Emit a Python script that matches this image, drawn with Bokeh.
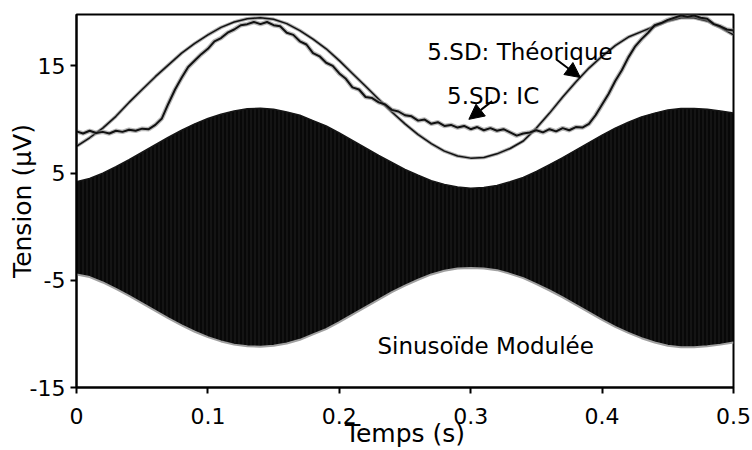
import numpy as np
from bokeh.plotting import figure
from bokeh.models import Range1d, FixedTicker, Arrow, NormalHead, Label
from bokeh.core.properties import value
from bokeh.embed import file_html
from bokeh.resources import INLINE

# ---- data ----
t_coarse = [round(0.01 * i, 2) for i in range(51)]

# 5.SD: Théorique (µV)
theory = [7.5, 8.3, 9.2, 10.3, 11.6, 12.8, 14.0, 15.1, 16.2, 17.1,
          17.9, 18.6, 19.1, 19.4, 19.5, 19.35, 18.95, 18.3, 17.5, 16.6,
          15.5, 14.3, 13.1, 11.9, 10.7, 9.6, 8.6, 7.75, 7.05, 6.6,
          6.4, 6.45, 6.8, 7.3, 8.0, 9.2, 10.6, 12.1, 13.5, 14.8,
          15.9, 16.9, 17.7, 18.2, 18.7, 19.2, 19.5, 19.5, 19.2, 18.6,
          17.9]

# envelope of the modulated sinusoid (µV)
env_upper = [4.2, 4.5, 5.0, 5.6, 6.25, 6.95, 7.65, 8.35, 9.0, 9.6,
             10.1, 10.5, 10.8, 11.0, 11.05, 10.95, 10.7, 10.4, 9.9, 9.4,
             8.75, 8.05, 7.35, 6.65, 6.0, 5.35, 4.8, 4.3, 3.95, 3.7,
             3.6, 3.65, 3.85, 4.2, 4.6, 5.15, 5.8, 6.45, 7.15, 7.85,
             8.55, 9.2, 9.75, 10.25, 10.6, 10.9, 11.02, 11.03, 10.95, 10.8,
             10.62]
env_lower = [-4.45, -4.7, -5.2, -5.8, -6.45, -7.15, -7.85, -8.55, -9.2, -9.8,
             -10.3, -10.7, -11.0, -11.15, -11.2, -11.1, -10.9, -10.55, -10.05, -9.55,
             -8.9, -8.2, -7.5, -6.8, -6.1, -5.5, -4.95, -4.45, -4.1, -3.9,
             -3.85, -3.9, -4.05, -4.4, -4.8, -5.35, -5.95, -6.6, -7.3, -8.0,
             -8.7, -9.35, -9.9, -10.4, -10.8, -11.1, -11.25, -11.25, -11.15, -11.0,
             -10.8]

t_fine = [round(0.005 * i, 3) for i in range(101)]

# 5.SD: IC (µV)
ic = [8.9, 8.7, 8.95, 8.75, 8.85, 8.7, 8.95, 8.85, 9.05, 8.95,
      9.15, 9.1, 9.5, 10.1, 11.5, 12.8, 13.9, 14.9, 15.5, 16.1,
      16.6, 17.3, 17.6, 18.1, 18.4, 18.8, 18.9, 19.1, 18.9, 19.1,
      18.8, 18.7, 18.1, 17.9, 17.3, 17.0, 16.2, 15.9, 15.3, 15.0,
      14.3, 13.8, 13.0, 12.8, 12.1, 12.0, 11.6, 11.4, 10.9, 10.75,
      10.4, 10.3, 9.9, 10.0, 9.6, 9.75, 9.4, 9.5, 9.25, 9.4,
      9.1, 9.3, 9.0, 9.2, 8.95, 9.1, 8.8, 8.5, 8.7, 8.8,
      9.0, 8.8, 9.1, 8.9, 9.2, 9.0, 9.3, 9.25, 9.6, 10.4,
      11.4, 12.4, 13.6, 14.6, 15.8, 16.8, 17.5, 18.1, 18.8, 19.0,
      19.3, 19.5, 19.7, 19.6, 19.7, 19.5, 19.4, 18.9, 18.7, 18.4,
      18.3]

x_ticks = [0, 0.1, 0.2, 0.3, 0.4, 0.5]
x_tick_labels = ["0", "0.1", "0.2", "0.3", "0.4", "0.5"]
y_ticks = [-15, -5, 5, 15]
y_tick_labels = ["-15", "-5", "5", "15"]

FONT = "DejaVu Sans"

p = figure(width=752, height=450, output_backend="svg", toolbar_location=None,
           x_range=Range1d(0, 0.5), y_range=Range1d(-15, 19.8),
           min_border_left=76, min_border_right=19, min_border_top=14,
           min_border_bottom=62)
p.background_fill_color = "white"
p.border_fill_color = "white"
p.outline_line_color = "black"
p.outline_line_width = 2
p.xgrid.visible = False
p.ygrid.visible = False

# modulated sinusoid (dense carrier rendered as filled envelope)
p.varea(x=t_coarse, y1=env_lower, y2=env_upper, fill_color="#080808",
        hatch_pattern="vertical_line", hatch_color="#1f1f1f", hatch_scale=4,
        hatch_weight=1)
p.line(t_coarse, env_lower, line_color="#a0a0a0", line_width=2)
p.line(t_coarse, env_upper, line_color="#151515", line_width=1.5)

# theoretical curve
p.line(t_coarse, theory, line_color="#8a8a8a", line_width=3.5, line_alpha=0.7)
p.line(t_coarse, theory, line_color="#111111", line_width=1.5)

# IC curve
p.line(t_fine, ic, line_color="#8a8a8a", line_width=4.5, line_alpha=0.6)
p.line(t_fine, ic, line_color="#111111", line_width=2)

# annotations
p.add_layout(Label(x=0.267, y=16.3, text="5.SD: Théorique", text_font=FONT,
                   text_font_size="23px", text_color="black",
                   text_baseline="alphabetic"))
p.add_layout(Label(x=0.282, y=12.18, text="5.SD: IC", text_font=FONT,
                   text_font_size="23px", text_color="black",
                   text_baseline="alphabetic"))
p.add_layout(Label(x=0.229, y=-11.13, text="Sinusoïde Modulée", text_font=FONT,
                   text_font_size="23px", text_color="black",
                   text_baseline="alphabetic"))
p.add_layout(Arrow(x_start=0.3652, y_start=15.6, x_end=0.3835, y_end=13.92,
                   line_color="black", line_width=2,
                   end=NormalHead(size=15, fill_color="black", line_color="black")))
p.add_layout(Arrow(x_start=0.3163, y_start=11.72, x_end=0.2986, y_end=10.02,
                   line_color="black", line_width=2,
                   end=NormalHead(size=15, fill_color="black", line_color="black")))

# axes
p.xaxis.ticker = FixedTicker(ticks=x_ticks)
p.xaxis.major_label_overrides = {k: v for k, v in zip(x_ticks, x_tick_labels)}
p.yaxis.ticker = FixedTicker(ticks=y_ticks)
p.yaxis.major_label_overrides = {k: v for k, v in zip(y_ticks, y_tick_labels)}
for ax in (p.xaxis[0], p.yaxis[0]):
    ax.axis_line_width = 2
    ax.axis_line_color = "black"
    ax.major_tick_line_width = 2
    ax.major_tick_line_color = "black"
    ax.major_tick_out = 6
    ax.major_tick_in = 0
    ax.minor_tick_line_color = None
    ax.major_label_text_font = FONT
    ax.major_label_text_font_size = "22px"
    ax.major_label_text_color = "black"
    ax.axis_label_text_font = FONT
    ax.axis_label_text_font_size = "25px"
    ax.axis_label_text_font_style = "normal"
    ax.axis_label_text_color = "black"

p.xaxis.axis_label = "Temps (s)"
p.yaxis.axis_label = "Tension (µV)"
p.xaxis.major_label_standoff = 14
p.xaxis.axis_label_standoff = -8
p.yaxis.major_label_standoff = 5
p.yaxis.axis_label_standoff = -10

open("out.html", "w").write(file_html(p, INLINE))
